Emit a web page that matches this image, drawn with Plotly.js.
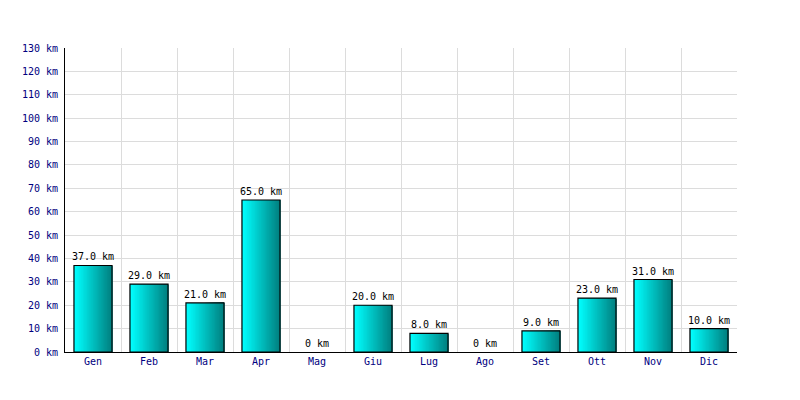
<!DOCTYPE html>
<html>
<head>
<meta charset="utf-8">
<script src="https://cdn.plot.ly/plotly-3.0.1.min.js"></script>
<style>html,body{margin:0;padding:0;background:#fff;}</style>
</head>
<body>
<div id="chart" style="width:800px;height:400px;"></div>
<script>
var months = ["Gen","Feb","Mar","Apr","Mag","Giu","Lug","Ago","Set","Ott","Nov","Dic"];
var km = [37, 29, 21, 65, 0, 20, 8, 0, 9, 23, 31, 10];
var labels = km.map(function(v){ return v === 0 ? "0 km" : v.toFixed(1) + " km"; });

var BW = 0.68, N = 30;
var traces = [];
function lerp(a,b,t){ return Math.round(a + (b-a)*t); }
for (var i = 0; i < N; i++) {
  var t = i/(N-1);
  var col = "rgb(0," + lerp(255,128,t) + "," + lerp(255,128,t) + ")";
  traces.push({
    type: "bar", x: months, y: km,
    width: BW - i*BW/N, offset: -BW/2 + i*BW/N,
    marker: {color: col, line: {width: 0}},
    hoverinfo: "skip", showlegend: false
  });
}
traces.push({
  type: "bar", x: months, y: km,
  width: BW, offset: -BW/2,
  marker: {color: "rgba(0,0,0,0)", line: {color: "#000", width: km.map(function(v){return v===0?0:1.2;})}},
  text: labels, textposition: "outside", cliponaxis: false, constraintext: "none",
  textfont: {family: "DejaVu Sans Mono", size: 10, color: "#000"},
  showlegend: false
});

var layout = {
  width: 800, height: 400,
  margin: {l: 65, r: 63, t: 48, b: 48},
  paper_bgcolor: "#fff", plot_bgcolor: "#fff",
  barmode: "overlay",
  font: {family: "DejaVu Sans Mono", size: 10, color: "#000080"},
  xaxis: {
    type: "category", categoryorder: "array", categoryarray: months,
    tickson: "boundaries", showgrid: true, gridcolor: "#dcdcdc", gridwidth: 1,
    showline: true, linecolor: "#000", linewidth: 1, ticks: "",
    tickfont: {family: "DejaVu Sans Mono", size: 10, color: "#000080"}
  },
  yaxis: {
    range: [0, 130], dtick: 10, ticksuffix: " km",
    showgrid: true, gridcolor: "#dcdcdc", gridwidth: 1,
    showline: true, linecolor: "#000", linewidth: 1, ticks: "", zeroline: false,
    ticklabelstandoff: 4,
    tickfont: {family: "DejaVu Sans Mono", size: 10, color: "#000080"}
  }
};
Plotly.newPlot("chart", traces, layout, {displayModeBar: false, staticPlot: true});
</script>
</body>
</html>
